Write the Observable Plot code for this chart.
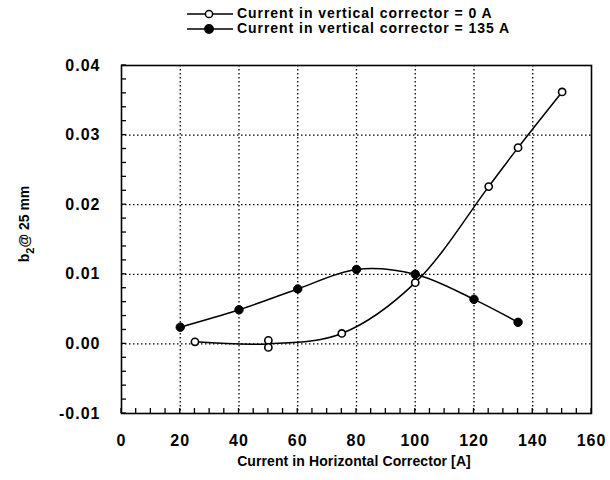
<!DOCTYPE html>
<html><head><meta charset="utf-8">
<script src="https://cdn.jsdelivr.net/npm/d3@7"></script>
<script src="https://cdn.jsdelivr.net/npm/@observablehq/plot@0.6"></script>
<style>
body{margin:0;background:#fff;font-family:"Liberation Sans",Arial,sans-serif;}
#legend{position:relative;height:38px;width:610px;}
.row{position:absolute;left:187px;display:flex;align-items:center;font-size:14px;letter-spacing:0.95px;font-weight:bold;color:#000;white-space:nowrap;line-height:13px;height:13px;}
.row svg{margin-right:4px;}
#chart svg{display:block;}
</style></head><body>
<div id="legend"></div>
<div id="chart"></div>
<script>
// ---- data ----
const seriesNames = ["Current in vertical corrector = 0 A", "Current in vertical corrector = 135 A"];
const x0A = [25, 50, 50, 75, 100, 125, 135, 150];
const y0A = [0.0003, 0.0005, -0.0005, 0.0015, 0.0088, 0.0226, 0.0282, 0.0362];
const x135A = [20, 40, 60, 80, 100, 120, 135];
const y135A = [0.0024, 0.0049, 0.0079, 0.0107, 0.0100, 0.0064, 0.0031];
const xTicks = [0, 20, 40, 60, 80, 100, 120, 140, 160];
const yTicks = [-0.01, 0.00, 0.01, 0.02, 0.03, 0.04];
const yTickLabels = ["-0.01", "0.00", "0.01", "0.02", "0.03", "0.04"];
const xLabel = "Current in Horizontal Corrector [A]";
const yLabelParts = ["b", "2", "@ 25 mm"];

// ---- derived tables ----
const pts0 = x0A.map((x, i) => ({x, y: y0A[i]}));
const pts135 = x135A.map((x, i) => ({x, y: y135A[i]}));
const line0 = d3.rollups(pts0, v => d3.mean(v, d => d.y), d => d.x).map(([x, y]) => ({x, y}));
const xMinor = d3.range(xTicks[0], xTicks[xTicks.length - 1] + 0.1, 5);
const yMinor = d3.range(0, 26).map(i => yTicks[0] + i * 0.002);

// ---- legend ----
const legend = d3.select("#legend");
seriesNames.forEach((name, i) => {
  const row = legend.append("div").attr("class", "row").style("top", (7 + i * 15) + "px");
  const s = row.append("svg").attr("width", 46).attr("height", 12);
  s.append("line").attr("x1", 0).attr("x2", 46).attr("y1", 6).attr("y2", 6).attr("stroke", "#000").attr("stroke-width", 1.5);
  s.append("circle").attr("cx", 22).attr("cy", 6).attr("r", i === 0 ? 3.6 : 4.2)
    .attr("fill", i === 0 ? "#fff" : "#000").attr("stroke", "#000").attr("stroke-width", 1.5);
  row.append("span").text(name);
});

// ---- chart ----
const W = 610, H = 442, mL = 121, mR = 19, mT = 27, mB = 67;
const plotW = W - mL - mR, plotH = H - mT - mB;
const dotted = {stroke: "#000", strokeOpacity: 1, strokeWidth: 1.3, strokeDasharray: "1.5,2.5"};

const chart = Plot.plot({
  width: W, height: H, marginLeft: mL, marginRight: mR, marginTop: mT, marginBottom: mB,
  x: {domain: [xTicks[0], xTicks[xTicks.length - 1]]},
  y: {domain: [yTicks[0], yTicks[yTicks.length - 1]]},
  style: {fontFamily: "Liberation Sans, Arial, sans-serif", color: "#000", background: "#fff", overflow: "visible"},
  marks: [
    Plot.gridX(xTicks.slice(1, -1), dotted),
    Plot.gridY(yTicks.slice(1, -1), dotted),
    Plot.axisX(xTicks, {tickSize: 0, tickPadding: 21, fontSize: 16, fontWeight: "bold", label: null}),
    Plot.axisY(yTicks, {tickSize: 0, tickPadding: 21, fontSize: 16, fontWeight: "bold", label: null,
      tickFormat: d => yTickLabels[yTicks.indexOf(d)]}),
    Plot.line(line0, {x: "x", y: "y", curve: "catmull-rom", stroke: "#000", strokeWidth: 1.5}),
    Plot.line(pts135, {x: "x", y: "y", curve: "catmull-rom", stroke: "#000", strokeWidth: 1.5}),
    Plot.dot(pts0, {x: "x", y: "y", r: 3.6, fill: "#fff", stroke: "#000", strokeWidth: 1.6}),
    Plot.dot(pts135, {x: "x", y: "y", r: 4.2, fill: "#000", stroke: "#000", strokeWidth: 1}),
    Plot.frame({stroke: "#000", strokeWidth: 1.6})
  ]
});
document.getElementById("chart").appendChild(chart);

const svg = d3.select(chart);
svg.selectAll("g[aria-label='x-axis tick label'] text, g[aria-label='y-axis tick label'] text").attr("letter-spacing", "1px");

// inner minor ticks via the plot's own scales
const sx = chart.scale("x"), sy = chart.scale("y");
const tg = svg.append("g").attr("stroke", "#000").attr("stroke-width", 1.3);
xMinor.forEach(v => {
  const px = sx.apply(v);
  tg.append("line").attr("x1", px).attr("x2", px).attr("y1", H - mB).attr("y2", H - mB - 5);
});
yMinor.forEach(v => {
  const py = sy.apply(v);
  tg.append("line").attr("x1", mL).attr("x2", mL + 5).attr("y1", py).attr("y2", py);
});

// axis titles as real text
svg.append("text").attr("x", mL + plotW / 2 - 2).attr("y", H - 14).attr("text-anchor", "middle")
  .attr("font-size", 14).attr("font-weight", "bold").attr("letter-spacing", "0.1px").attr("fill", "#000").text(xLabel);
const yl = svg.append("text").attr("transform", `translate(29,186) rotate(-90)`)
  .attr("text-anchor", "middle").attr("font-size", 14).attr("font-weight", "bold").attr("fill", "#000");
yl.append("tspan").text(yLabelParts[0]);
yl.append("tspan").attr("dy", 5).attr("font-size", 11).text(yLabelParts[1]);
yl.append("tspan").attr("dy", -5).text(yLabelParts[2]);
</script>
</body></html>
